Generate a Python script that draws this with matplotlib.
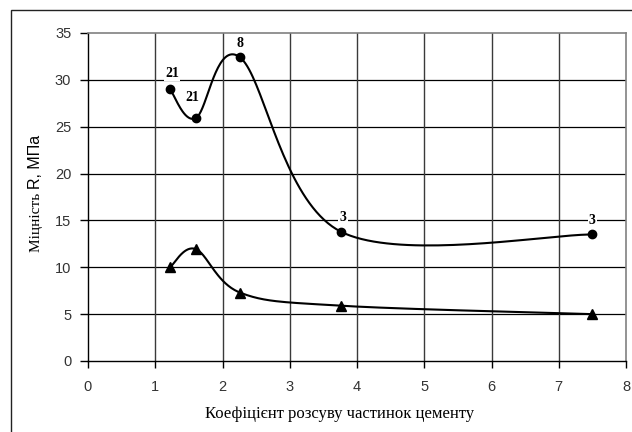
import numpy as np
import matplotlib
matplotlib.use("Agg")
import matplotlib.pyplot as plt
from matplotlib.patches import Rectangle

# Cement particle spacing coefficient vs. strength
x_vals = [1.22, 1.60, 2.26, 3.76, 7.50]
strength_circles = [29.0, 25.9, 32.4, 13.8, 13.5]
strength_triangles = [10.0, 11.95, 7.3, 5.9, 5.0]
point_labels = ["21", "21", "8", "3", "3"]

x_ticks = [0, 1, 2, 3, 4, 5, 6, 7, 8]
y_ticks = [0, 5, 10, 15, 20, 25, 30, 35]

x_title = "Коефіцієнт розсуву частинок цементу"
y_title_serif = "Міцність"
y_title_sans = "R, МПа"


def smooth_curve(xs, ys, n=40):
    """Bezier spline through the points (spreadsheet-style smoothed line)."""
    p = np.column_stack([xs, ys]).astype(float)
    ext = np.vstack([p[0], p, p[-1]])
    out = []
    t = np.linspace(0, 1, n)[:, None]
    for i in range(len(p) - 1):
        p0, p1, p2, p3 = ext[i], ext[i + 1], ext[i + 2], ext[i + 3]
        c1 = p1 + (p2 - p0) / 6.0
        c2 = p2 - (p3 - p1) / 6.0
        seg = ((1 - t) ** 3) * p1 + 3 * ((1 - t) ** 2) * t * c1 \
            + 3 * (1 - t) * t ** 2 * c2 + t ** 3 * p2
        out.append(seg if i == 0 else seg[1:])
    pts = np.vstack(out)
    return pts[:, 0], pts[:, 1]


fig = plt.figure(figsize=(6.32, 4.32), dpi=100)
fig.patch.set_facecolor("white")

# outer chart frame
fig.patches.append(Rectangle((11 / 632, -0.2), 1.2, 1.2 - 10 / 432,
                             transform=fig.transFigure, fill=False,
                             edgecolor="#222222", linewidth=1.0))

ax = fig.add_axes([88 / 632, 1 - 361 / 432, (626 - 88) / 632, (361 - 33) / 432])
ax.set_xlim(0, 8)
ax.set_ylim(0, 35)
ax.set_xticks(x_ticks)
ax.set_yticks(y_ticks)

for v in y_ticks[1:-1]:
    ax.axhline(v, color="black", linewidth=0.9, zorder=1)
for v in x_ticks[1:-1]:
    ax.axvline(v, color="#3a3a3a", linewidth=1.0, zorder=1)

for side in ("top", "right"):
    ax.spines[side].set_color("#808080")
    ax.spines[side].set_linewidth(1.2)
for side in ("left", "bottom"):
    ax.spines[side].set_color("black")
    ax.spines[side].set_linewidth(1.0)

tick_font = dict(family="Liberation Sans", size=10.5)
ax.set_xticklabels([str(v) for v in x_ticks], fontdict=tick_font, color="#333333")
ax.set_yticklabels([str(v) for v in y_ticks], fontdict=tick_font, color="#333333")
ax.tick_params(axis="y", direction="out", length=6, width=1, pad=6)
ax.tick_params(axis="x", direction="out", length=5, width=1, pad=9)

# series with circle markers
sx, sy = smooth_curve(x_vals, strength_circles)
ax.plot(sx, sy, color="black", linewidth=1.5, zorder=3)
ax.plot(x_vals, strength_circles, linestyle="none", marker="o", markersize=6,
        color="black", zorder=4)

# series with triangle markers
tx, ty = smooth_curve(x_vals, strength_triangles)
ax.plot(tx, ty, color="black", linewidth=1.5, zorder=3)
ax.plot(x_vals, strength_triangles, linestyle="none", marker="^", markersize=7,
        color="black", zorder=4)

# point labels
label_offsets = [(2, 16), (-3, 21), (0, 14), (2, 14), (0, 14)]
for xv, yv, lab, off in zip(x_vals, strength_circles, point_labels, label_offsets):
    ax.annotate(lab, (xv, yv), xytext=off, textcoords="offset pixels",
                ha="center", va="center", fontsize=10, fontweight="bold",
                family="Liberation Serif", zorder=5,
                bbox=dict(boxstyle="square,pad=0.1", facecolor="white",
                          edgecolor="none"))

fig.text(340 / 632, 1 - 414 / 432, x_title, ha="center", va="center",
         family="Liberation Serif", fontsize=12)

anchor_y = 1 - 189 / 432
fig.text(40 / 632, anchor_y, y_title_serif + " ", rotation=90,
         rotation_mode="anchor", ha="right", va="baseline",
         family="Liberation Serif", fontsize=11)
fig.text(40 / 632, anchor_y, y_title_sans, rotation=90,
         rotation_mode="anchor", ha="left", va="baseline",
         family="Liberation Sans", fontsize=11.5)

fig.savefig("out.png", dpi=100, facecolor="white")
